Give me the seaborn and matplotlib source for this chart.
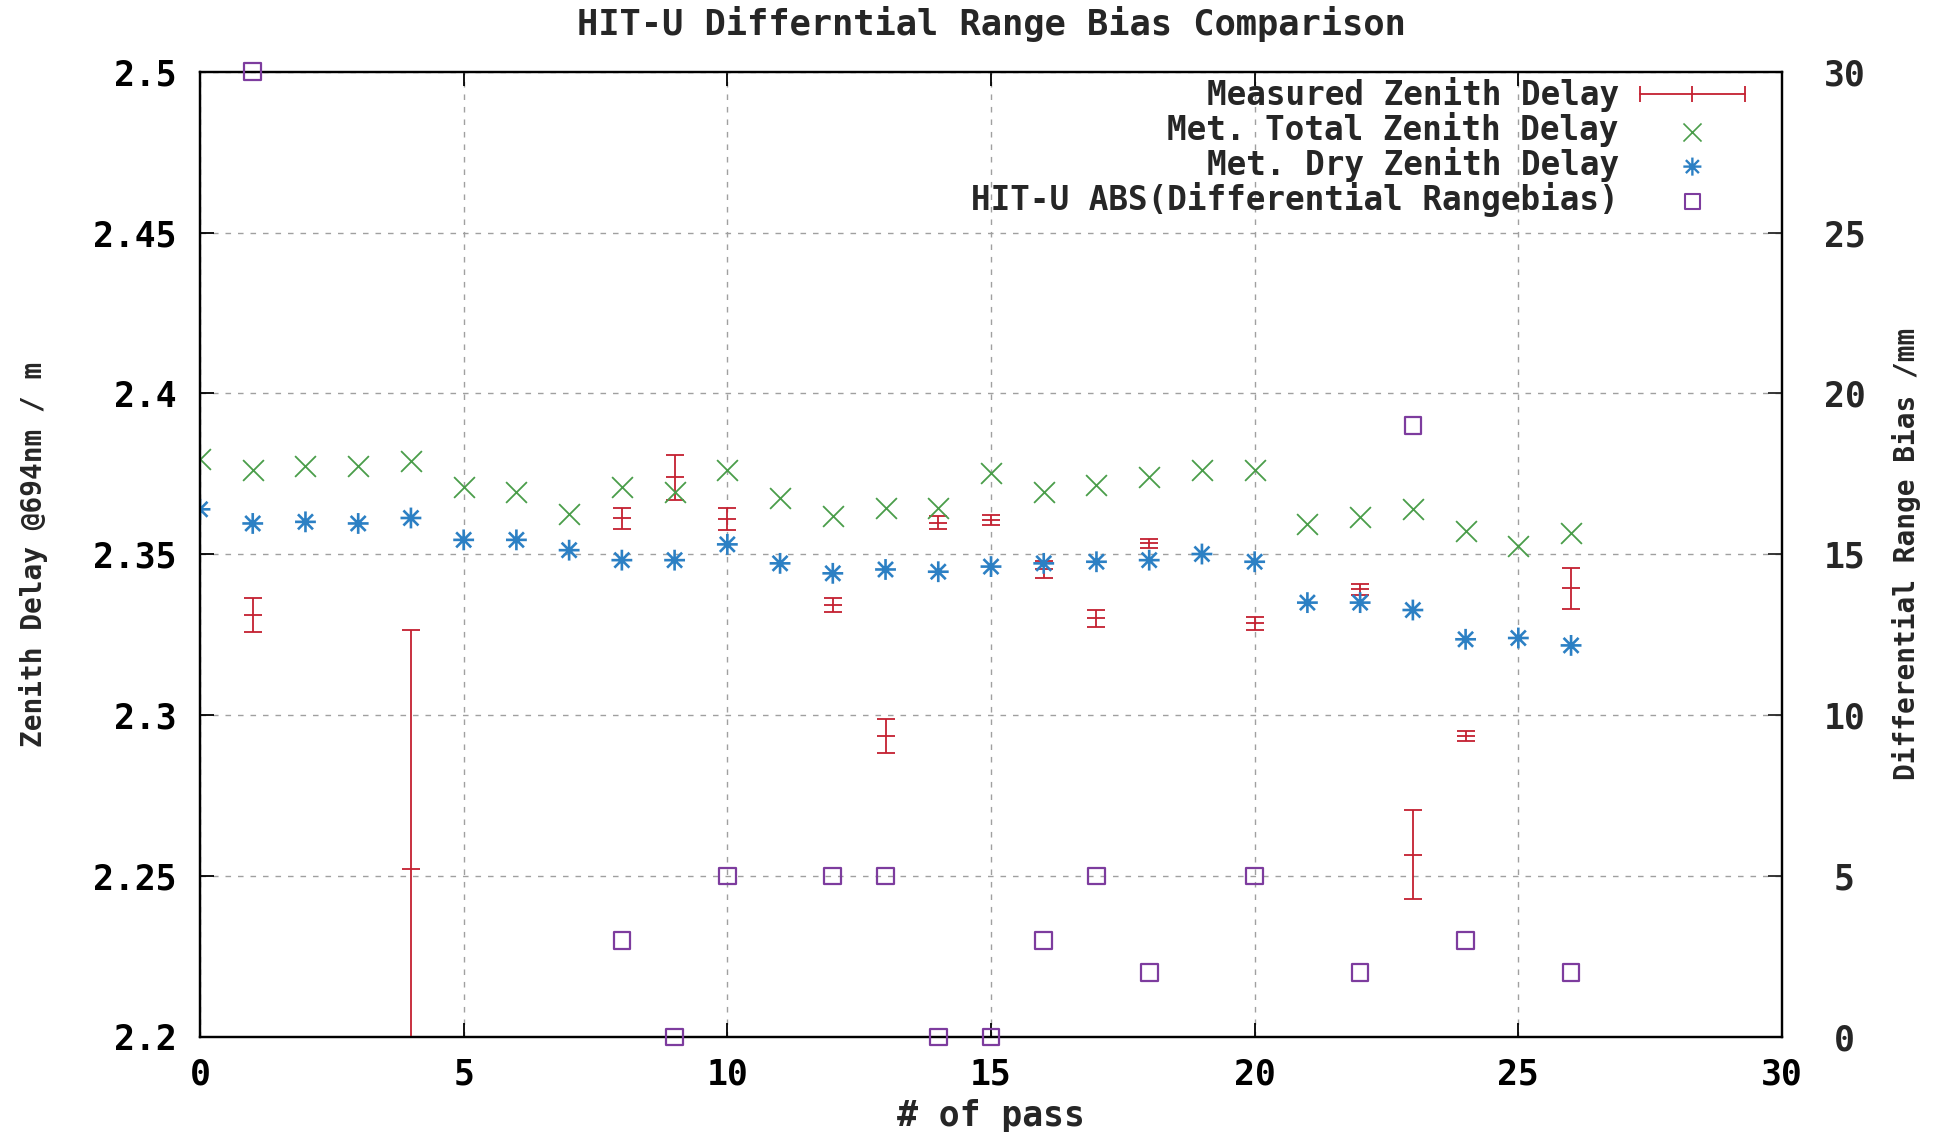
import numpy as np
import pandas as pd
import matplotlib
matplotlib.use("Agg")
import matplotlib.pyplot as plt
from matplotlib.path import Path
from matplotlib.lines import Line2D
import seaborn as sns

# ---------------- data ----------------
passes = list(range(27))
met_total = [2.3796, 2.3762, 2.3775, 2.3775, 2.3790, 2.3708, 2.3695, 2.3625, 2.3708,
             2.3695, 2.3762, 2.3674, 2.3619, 2.3643, 2.3643, 2.3754, 2.3695, 2.3715,
             2.3739, 2.3762, 2.3762, 2.3594, 2.3617, 2.3640, 2.3574, 2.3527, 2.3565]
met_dry = [2.3640, 2.3596, 2.3601, 2.3596, 2.3613, 2.3545, 2.3545, 2.3513, 2.3482,
           2.3482, 2.3531, 2.3472, 2.3441, 2.3453, 2.3446, 2.3462, 2.3472, 2.3477,
           2.3482, 2.3501, 2.3477, 2.3350, 2.3350, 2.3327, 2.3236, 2.3240, 2.3217]

measured_pass = [1, 4, 8, 9, 10, 12, 13, 14, 15, 16, 17, 18, 20, 22, 23, 24, 26]
measured_delay = [2.3312, 2.2521, 2.3612, 2.3739, 2.3609, 2.3343, 2.2935, 2.3598, 2.3607,
                  2.3453, 2.3301, 2.3534, 2.3286, 2.3391, 2.2566, 2.2936, 2.3394]
measured_err = [0.0053, 0.0743, 0.0032, 0.0070, 0.0034, 0.0022, 0.0053, 0.0020, 0.0015,
                0.0025, 0.0026, 0.0015, 0.0020, 0.0017, 0.0138, 0.0015, 0.0063]

bias_pass = [1, 8, 9, 10, 12, 13, 14, 15, 16, 17, 18, 20, 22, 23, 24, 26]
bias_mm = [30, 3, 0, 5, 5, 5, 0, 0, 3, 5, 2, 5, 2, 19, 3, 2]

title = "HIT-U Differntial Range Bias Comparison"
xlabel = "# of pass"
ylabel = "Zenith Delay @694nm / m"
y2label = "Differential Range Bias /mm"
labels = ["Measured Zenith Delay", "Met. Total Zenith Delay",
          "Met. Dry Zenith Delay", "HIT-U ABS(Differential Rangebias)"]

# ---------------- style ----------------
sns.set_theme(style="white")
plt.rcParams['font.family'] = ['DejaVu Sans Mono']
plt.rcParams['font.weight'] = 'bold'
FS = 25
FS_T = 25.5
FS_L = 23.5
FS_Y = 20

c_red = "#c42030"
c_green = "#4a9d4a"
c_blue = "#2c80c4"
c_purple = "#7d3c9e"

fig = plt.figure(figsize=(19.41, 11.32), dpi=100)
fig.patch.set_facecolor("white")
left, right = 200 / 1941, 1782 / 1941
top, bottom = 1 - 71.7 / 1132, 1 - 1037 / 1132
ax = fig.add_axes([left, bottom, right - left, top - bottom])
ax2 = ax.twinx()

# asterisk marker (+ and x combined)
d = 0.72
star = Path([(-1, 0), (1, 0), (0, -1), (0, 1), (-d, -d), (d, d), (-d, d), (d, -d)],
            [Path.MOVETO, Path.LINETO] * 4)

df_met = pd.DataFrame({"pass": passes, "total": met_total, "dry": met_dry})
df_bias = pd.DataFrame({"pass": bias_pass, "bias": bias_mm})

# measured with error bars
ax.errorbar(measured_pass, measured_delay, yerr=measured_err, fmt='_', color=c_red,
            ecolor=c_red, elinewidth=1.3, capsize=6.5, capthick=1.3, markersize=13,
            markeredgewidth=1.3, zorder=3)

sns.scatterplot(data=df_met, x="pass", y="total", ax=ax, marker='x', color=c_green,
                s=15 ** 2, linewidth=1.3, zorder=4, legend=False)
ax.scatter(df_met["pass"], df_met["dry"], marker=star, s=15 ** 2, facecolor='none',
           edgecolor=c_blue, linewidths=1.9, zorder=4)

sns.scatterplot(data=df_bias, x="pass", y="bias", ax=ax2, marker='s', s=12 ** 2,
                facecolor='none', edgecolor=c_purple, linewidth=1.6, zorder=5,
                clip_on=False, legend=False)

# axes limits and ticks
ax.set_xlim(0, 30)
ax.set_ylim(2.2, 2.5)
ax2.set_ylim(0, 30)
ax.set_xticks(np.arange(0, 31, 5))
ax.set_yticks(np.round(np.arange(2.2, 2.501, 0.05), 2))
ax.set_yticklabels(["2.2", "2.25", "2.3", "2.35", "2.4", "2.45", "2.5"])
ax2.set_yticks(np.arange(0, 31, 5))

ax.grid(True, color="#a0a0a0", linestyle=(0, (4, 5)), linewidth=1.0)
ax2.grid(False)
ax.set_axisbelow(True)

for a in (ax, ax2):
    for s in a.spines.values():
        s.set_linewidth(1.6)
        s.set_color("black")
        s.set_visible(True)

ax.tick_params(axis='both', direction='in', length=10, width=1.3, labelsize=FS,
               colors='black', top=True, right=False, left=True, bottom=True)
ax.tick_params(axis='y', pad=17)
ax.tick_params(axis='x', pad=15)
ax2.tick_params(axis='y', direction='in', length=10, width=1.3, labelsize=FS,
                right=True, left=False, pad=45)
for lab in ax2.get_yticklabels():
    lab.set_horizontalalignment('center')

ax.set_xlabel(xlabel, fontsize=FS, fontweight='bold')
ax.set_ylabel(ylabel, fontsize=FS_Y, fontweight='bold')
ax2.set_ylabel(y2label, fontsize=FS_Y, fontweight='bold')
ax.xaxis.set_label_coords(0.5, -0.064)
ax.yaxis.label.set_va('center')
ax.yaxis.set_label_coords(-0.105, 0.5)
ax2.yaxis.label.set_va('center')
ax2.yaxis.set_label_coords(1.079, 0.5)

fig.text((200 + 1782) / 2 / 1941, 1 - 24 / 1132, title, ha='center', va='center',
         fontsize=FS_T, fontweight='bold')

# legend (gnuplot style: text first, key on the right)
h_meas = Line2D([], [], color=c_red, lw=1.3, marker='|', markersize=12, mew=1.3)
h_tot = ax.scatter([], [], marker='x', s=13 ** 2, color=c_green, linewidths=1.2)
h_dry = ax.scatter([], [], marker=star, s=13 ** 2, facecolor='none', edgecolor=c_blue,
                   linewidths=1.7)
h_bias = ax.scatter([], [], marker='s', s=11 ** 2, facecolor='none', edgecolor=c_purple,
                    linewidths=1.5)
leg = ax2.legend([h_meas, h_tot, h_dry, h_bias], labels, loc='upper right',
                 bbox_to_anchor=(0.9973, 1.018), frameon=False, markerfirst=False,
                 numpoints=3, scatterpoints=1, handlelength=3.83,
                 prop={'family': 'DejaVu Sans Mono', 'weight': 'bold', 'size': FS_L},
                 handletextpad=0.34, labelspacing=0.0, borderpad=0.2)

fig.savefig("out.png", dpi=100, facecolor="white")
